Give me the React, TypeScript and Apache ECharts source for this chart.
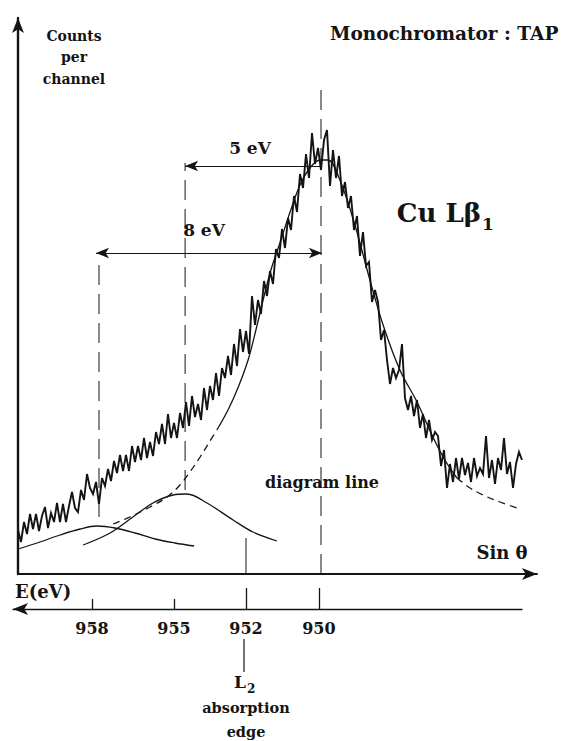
import { useEffect, useRef } from "react";
import * as echarts from "echarts";

// ---------- data ----------
// x unit: spectrometer channel (Sin θ scan step), y unit: counts per channel (arb.)
const spectrumCounts: number[] = [
  44, 32, 52, 40, 60, 45, 60, 43, 58, 67,
  46, 61, 52, 71, 52, 70, 52, 68, 82, 66,
  62, 84, 74, 100, 86, 80, 92, 70, 96, 88,
  105, 93, 113, 101, 119, 103, 119, 103, 128, 112,
  128, 114, 136, 116, 132, 118, 142, 130, 150, 130,
  160, 136, 151, 136, 161, 146, 172, 148, 178, 157,
  170, 154, 186, 164, 188, 174, 201, 178, 206, 196,
  218, 199, 230, 208, 245, 222, 243, 220, 278, 249,
  274, 260, 293, 278, 303, 290, 325, 316, 345, 326,
  356, 344, 378, 362, 400, 386, 420, 396, 441, 410,
  426, 404, 434, 444, 388, 424, 396, 418, 378, 392,
  366, 378, 344, 358, 318, 342, 308, 312, 272, 284,
  272, 234, 244, 214, 190, 206, 196, 204, 230, 176,
  164, 178, 158, 174, 146, 160, 136, 154, 134, 142,
  138, 108, 124, 86, 110, 92, 116, 95, 116, 99,
  111, 92, 116, 98, 106, 100, 138, 96, 114, 90,
  116, 104, 136, 100, 112, 86, 110, 122, 114,
];

const fitLeftDashed: number[][] = [
  [31.7, 50], [37.3, 57], [44, 67], [49.7, 77], [54, 89], [57.3, 102],
  [60.7, 117], [64, 133], [66.3, 144],
];
const fitPeakSolid: number[][] = [
  [66.3, 144], [70, 164], [73.3, 186], [76.7, 214], [79.3, 244], [81.7, 274],
  [84.3, 304], [87.3, 331], [90.7, 362], [94, 389], [97.3, 406], [100.7, 414],
  [103.3, 414], [107.3, 394], [112.3, 349], [117.3, 294], [121.7, 249],
  [127.3, 204], [133, 172], [138.3, 137], [142.3, 114], [146.3, 96],
];
const fitRightDashed: number[][] = [
  [146.3, 96], [150.7, 86], [155.7, 78], [160.7, 72], [167.3, 65],
];
const satellite958: number[][] = [
  [0, 25], [7.3, 32], [14, 39], [20.7, 45], [26.3, 48], [32.3, 46],
  [39, 41], [45.7, 35], [52.3, 31], [58.7, 28],
];
const satellite955: number[][] = [
  [21.7, 29], [30.7, 41], [38.3, 57], [45, 71], [51.7, 79], [56.3, 80],
  [63, 71], [71.7, 54], [78.3, 42], [86.3, 33],
];

// guides: [channel, from count, to count]
const dashedGuides: number[][] = [
  [101, 0, 486],   // diagram line 950 eV
  [55.7, 84, 411], // 955 eV satellite
  [27, 57, 318],   // 958 eV satellite
];
const edgeGuide: number[] = [76, 0, 36]; // L2 absorption edge 952 eV

const arrow5eV: number[][] = [[55.7, 408], [101, 408]];
const arrow8eV: number[][] = [[26, 321], [101.3, 321]];

// energy scale below the Sin θ axis
const energyTickChannels = [24.67, 52, 76, 100.3];
const energyTickLabels = ["958", "955", "952", "950"];
const energyShortTicks = [24.67, 52];
const energyLongTicks = [76, 100.3];
const edgeChannel = 76;

// ---------- styling ----------
const INK = "#141414";
const FONT = "'DejaVu Serif', 'Liberation Serif', serif";

function txt(text: string, x: number, y: number, fontSize: number, align = "center", extra: any = {}) {
  return {
    type: "text",
    x,
    y,
    silent: true,
    style: {
      text,
      fill: INK,
      fontSize,
      fontWeight: "bold",
      fontFamily: FONT,
      align,
      verticalAlign: "middle",
      textAlign: align,
      textVerticalAlign: "middle",
      ...extra,
    },
  };
}

export default function App() {
  const ref = useRef<HTMLDivElement>(null);

  useEffect(() => {
    if (!ref.current) return;
    const chart = echarts.init(ref.current, null, { renderer: "svg" });

    const lineSeries = (data: number[][], dashed: boolean, width = 1.3, z = 2) => ({
      type: "line",
      xAxisIndex: 0,
      yAxisIndex: 0,
      data,
      smooth: 0.35,
      showSymbol: false,
      symbol: "none",
      silent: true,
      z,
      lineStyle: { color: INK, width, type: dashed ? [7, 5] : "solid" },
    });

    const guideSeries = (g: number[], dashed: boolean) => ({
      type: "line",
      xAxisIndex: 0,
      yAxisIndex: 0,
      data: [[g[0], g[1]], [g[0], g[2]]],
      showSymbol: false,
      symbol: "none",
      silent: true,
      z: 1,
      lineStyle: { color: INK, width: 1, type: dashed ? [20, 9] : "solid" },
    });

    const labelFor = (v: number) => {
      const i = energyTickChannels.findIndex((c) => Math.abs(c - v) < 1e-6);
      return i >= 0 ? energyTickLabels[i] : "";
    };

    const option: any = {
      animation: false,
      backgroundColor: "#ffffff",
      grid: [
        { left: 18, top: 18, width: 519, height: 556 },
        { left: 13, top: 579, width: 509, height: 30 },
      ],
      xAxis: [
        {
          gridIndex: 0,
          type: "value",
          min: 0,
          max: 173,
          axisLine: {
            show: true,
            onZero: false,
            symbol: ["none", "arrow"],
            symbolSize: [9, 15],
            lineStyle: { color: INK, width: 2 },
          },
          axisTick: { show: false },
          axisLabel: { show: false },
          splitLine: { show: false },
        },
        {
          gridIndex: 1,
          type: "value",
          min: -1.667,
          max: 168,
          position: "bottom",
          axisLine: {
            show: true,
            onZero: false,
            symbol: ["arrow", "none"],
            symbolSize: [9, 15],
            lineStyle: { color: INK, width: 1.4 },
          },
          axisTick: {
            show: true,
            inside: true,
            length: 10,
            customValues: energyShortTicks,
            lineStyle: { color: INK, width: 1.3 },
          },
          axisLabel: {
            show: true,
            customValues: energyTickChannels,
            formatter: labelFor,
            margin: 11,
            color: INK,
            fontSize: 16,
            fontWeight: "bold",
            fontFamily: FONT,
          },
          splitLine: { show: false },
        },
        {
          gridIndex: 1,
          type: "value",
          min: -1.667,
          max: 168,
          position: "bottom",
          axisLine: { show: false, onZero: false },
          axisTick: {
            show: true,
            inside: true,
            length: 21,
            customValues: energyLongTicks,
            lineStyle: { color: INK, width: 1.3 },
          },
          axisLabel: { show: false },
          splitLine: { show: false },
        },
      ],
      yAxis: [
        {
          gridIndex: 0,
          type: "value",
          min: 0,
          max: 556,
          axisLine: {
            show: true,
            onZero: false,
            symbol: ["none", "arrow"],
            symbolSize: [9, 15],
            lineStyle: { color: INK, width: 2.4 },
          },
          axisTick: { show: false },
          axisLabel: { show: false },
          splitLine: { show: false },
        },
        { gridIndex: 1, type: "value", min: 0, max: 1, show: false },
      ],
      series: [
        {
          type: "line",
          name: "Cu Lβ1 spectrum",
          xAxisIndex: 0,
          yAxisIndex: 0,
          data: spectrumCounts.map((c, i) => [i, c]),
          showSymbol: false,
          symbol: "none",
          silent: true,
          z: 3,
          lineStyle: { color: INK, width: 1.9, join: "miter" },
        },
        lineSeries(fitLeftDashed, true),
        {
          ...lineSeries(fitPeakSolid, false),
          markLine: {
            silent: true,
            symbol: ["none", "none"],
            symbolSize: [8, 13],
            label: { show: false },
            lineStyle: { color: INK, width: 1.2, type: "solid" },
            data: [
              [
                { coord: arrow5eV[0], symbol: "arrow" },
                { coord: arrow5eV[1], symbol: "none" },
              ],
              [
                { coord: arrow8eV[0], symbol: "arrow" },
                { coord: arrow8eV[1], symbol: "arrow" },
              ],
            ],
          },
        },
        lineSeries(fitRightDashed, true),
        lineSeries(satellite958, false),
        lineSeries(satellite955, false),
        ...dashedGuides.map((g) => guideSeries(g, true)),
        guideSeries(edgeGuide, false),
      ],
    };

    chart.setOption(option);

    const edgeX = chart.convertToPixel({ xAxisIndex: 1 } as any, edgeChannel) as unknown as number;
    const ex = typeof edgeX === "number" && isFinite(edgeX) ? edgeX : 246;

    chart.setOption({
      graphic: [
        txt("Counts\nper\nchannel", 74, 57, 14, "center", { lineHeight: 21.5 }),
        txt("Monochromator : TAP", 330, 33, 18.5, "left"),
        txt("Cu Lβ", 481, 213, 26, "right"),
        txt("1", 482, 224, 17, "left"),
        txt("5 eV", 250, 148, 17),
        txt("8 eV", 204, 230, 17),
        txt("diagram line", 322, 482, 16),
        txt("Sin θ", 502, 552, 18),
        txt("E(eV)", 15, 591, 18, "left"),
        {
          type: "line",
          silent: true,
          shape: { x1: ex - 2, y1: 639, x2: ex - 2, y2: 672 },
          style: { stroke: INK, lineWidth: 1.2 },
        },
        txt("L", ex - 6, 682, 17),
        txt("2", ex + 1, 689, 12, "left"),
        txt("absorption", ex, 707, 14.5),
        txt("edge", ex, 731, 14.5),
      ],
    });

    return () => chart.dispose();
  }, []);

  return (
    <div
      ref={ref}
      style={{ position: "absolute", left: 0, top: 0, width: 563, height: 741, background: "#fff" }}
    />
  );
}
